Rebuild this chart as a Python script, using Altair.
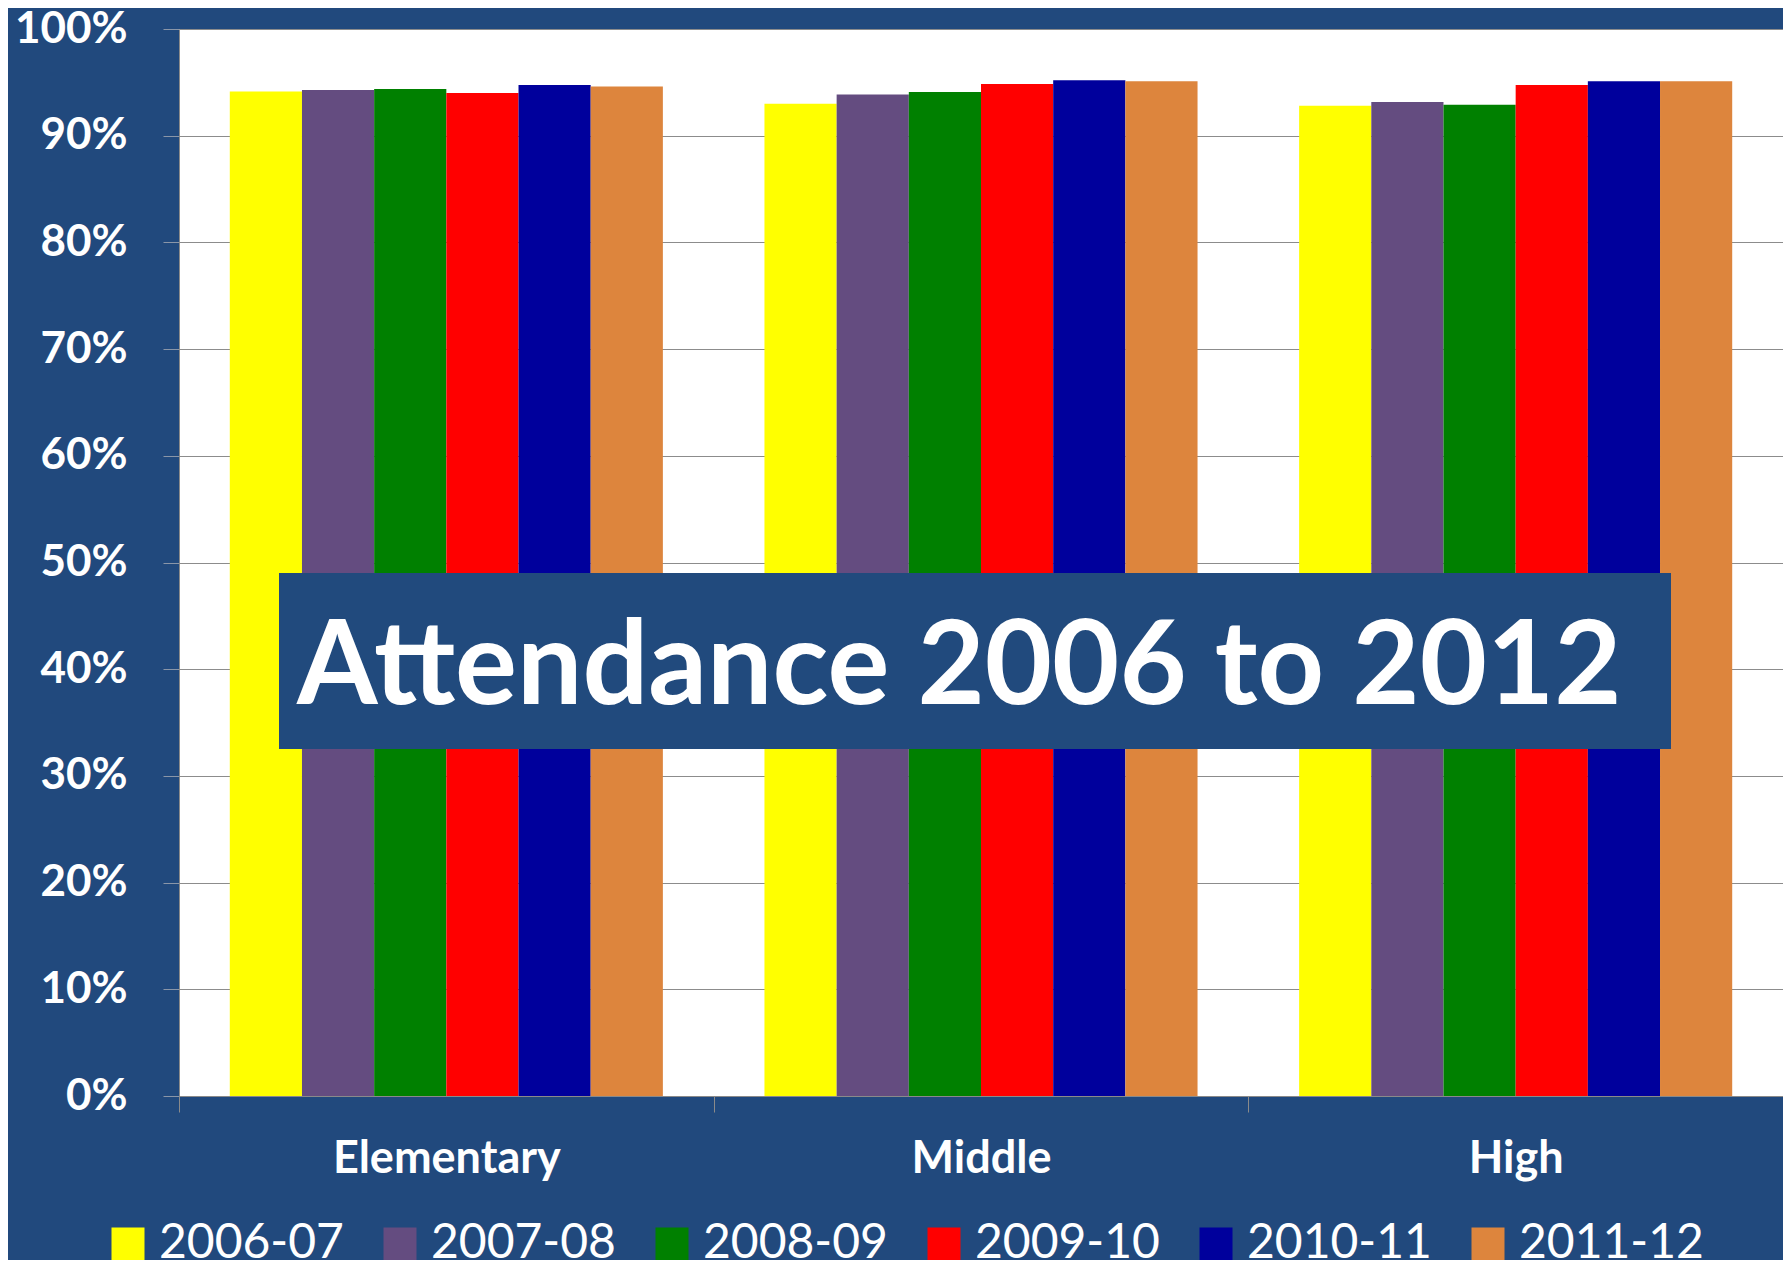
import altair as alt
import pandas as pd

levels = ["Elementary", "Middle", "High"]
years = ["2006-07", "2007-08", "2008-09", "2009-10", "2010-11", "2011-12"]
colors = ["#FFFF00", "#644C80", "#008000", "#FF0000", "#00009C", "#DD853D"]

elementary = [94.15, 94.28, 94.37, 94.0, 94.75, 94.6]
middle = [93.0, 93.87, 94.1, 94.85, 95.2, 95.1]
high = [92.8, 93.16, 92.9, 94.75, 95.1, 95.1]

y_ticks = [0, 0.1, 0.2, 0.3, 0.4, 0.5, 0.6, 0.7, 0.8, 0.9, 1.0]
title_text = "Attendance 2006 to 2012"

rows = []
for lvl, vals in zip(levels, [elementary, middle, high]):
    for yr, v in zip(years, vals):
        rows.append({"Level": lvl, "Year": yr, "Attendance": v / 100.0})
df = pd.DataFrame(rows)

FONT = "Lato"
BG = "#21497D"

bars = alt.Chart(df).mark_bar(strokeWidth=0).encode(
    x=alt.X(
        "Level:N",
        sort=levels,
        scale=alt.Scale(paddingInner=0, paddingOuter=0),
        axis=alt.Axis(
            title=None,
            labelAngle=0,
            labelFont=FONT,
            labelFontSize=45,
            labelFontWeight="bold",
            labelColor="white",
            labelLimit=0,
            labelPadding=24,
            tickBand="extent",
            tickSize=16,
            tickColor="#8A8A8A",
            domainColor="#8A8A8A",
            grid=False,
        ),
    ),
    xOffset=alt.XOffset(
        "Year:N", sort=years,
        scale=alt.Scale(paddingInner=0, paddingOuter=0.7037),
    ),
    y=alt.Y(
        "Attendance:Q",
        scale=alt.Scale(domain=[0, 1], nice=False, zero=True),
        axis=alt.Axis(
            title=None,
            format=".0%",
            values=y_ticks,
            labelFont=FONT,
            labelFontSize=44,
            labelFontWeight="bold",
            labelColor="white",
            labelLimit=0,
            labelPadding=36,
            tickSize=16,
            tickColor="#8A96A8",
            domainColor="#8A8A8A",
            gridColor="#8C8C8C",
            gridWidth=1,
        ),
    ),
    color=alt.Color(
        "Year:N",
        sort=years,
        scale=alt.Scale(domain=years, range=colors),
        legend=alt.Legend(
            title=None,
            orient="none",
            direction="horizontal",
            legendX=-75,
            legendY=1191,
            symbolType="square",
            symbolSize=1089,
            symbolStrokeWidth=0,
            symbolOpacity=1,
            labelFont=FONT,
            labelFontSize=48,
            labelColor="white",
            labelLimit=0,
            labelOffset=7,
            columnPadding=32,
        ),
    ),
)

tdf = pd.DataFrame({"title": [title_text]})

box = alt.Chart(tdf).mark_rect(color="#214A7D").encode(
    x=alt.value(100), x2=alt.value(1492), y=alt.value(544), y2=alt.value(720)
)

label = alt.Chart(tdf).mark_text(
    font=FONT, fontSize=116, fontWeight="bold", color="white",
    align="left", baseline="alphabetic",
).encode(x=alt.value(118), y=alt.value(675), text="title:N")

chart = alt.layer(bars, box, label).properties(
    width=1604,
    height=1067,
    background=BG,
    padding={"left": 171, "top": 21, "right": 0, "bottom": 164},
    autosize=alt.AutoSizeParams(type="none"),
).configure_view(fill="white", strokeWidth=0)

chart.save("out.html", embed_options={"renderer": "svg", "actions": False})
